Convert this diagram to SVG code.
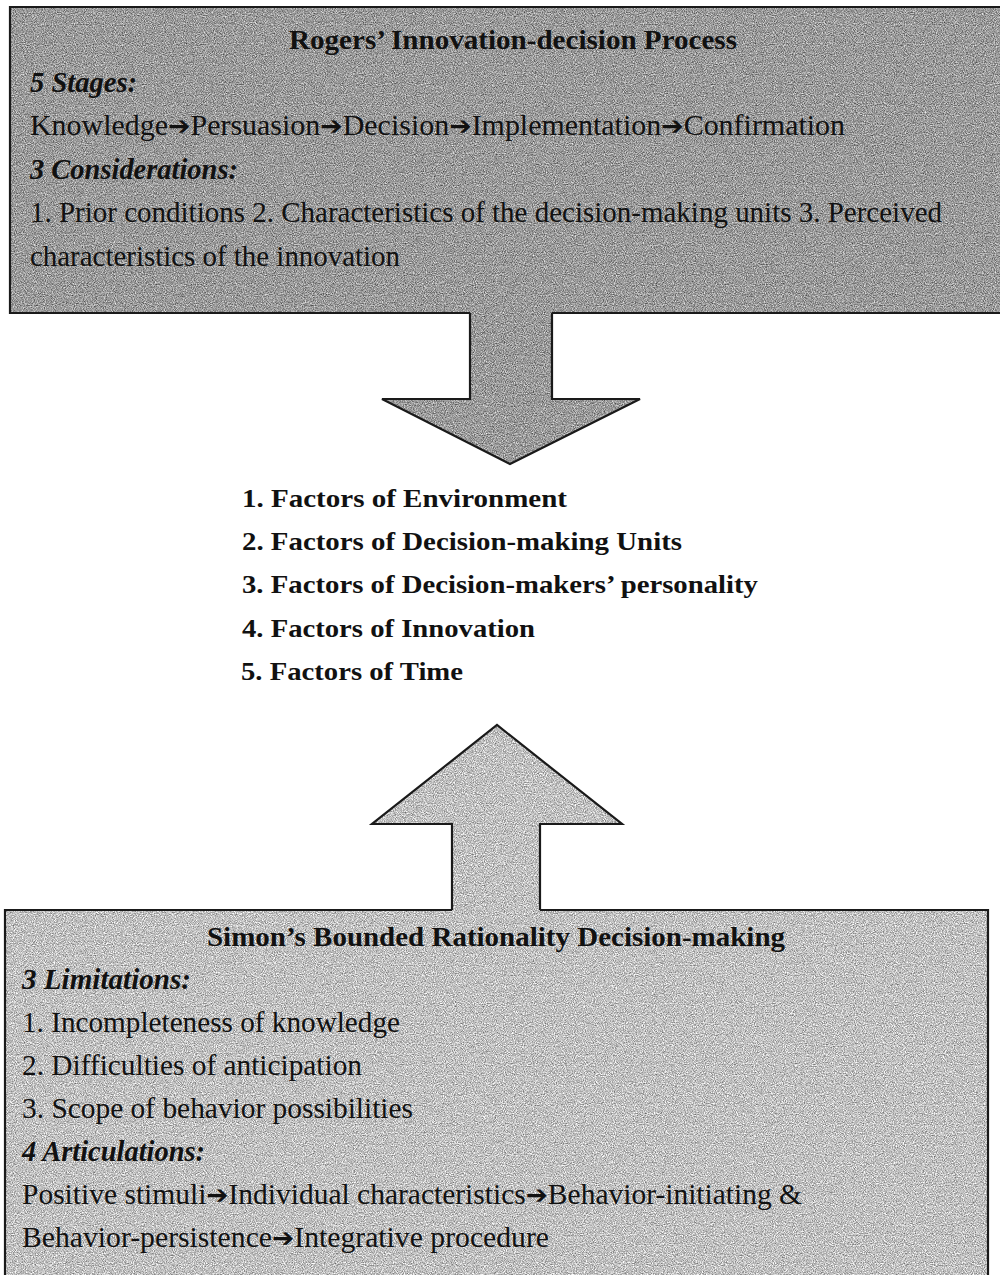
<svg xmlns="http://www.w3.org/2000/svg" width="1000" height="1275" viewBox="0 0 1000 1275">
<defs>
<filter id="grain" x="0" y="0" width="100%" height="100%" color-interpolation-filters="sRGB">
<feTurbulence type="fractalNoise" baseFrequency="0.9" numOctaves="2" seed="7" result="n"/>
<feColorMatrix in="n" type="matrix" values="1 0 0 0 0  1 0 0 0 0  1 0 0 0 0  0 0 0 0 1" result="g"/>
<feComposite in="SourceGraphic" in2="g" operator="arithmetic" k1="0" k2="1" k3="0.9" k4="-0.45" result="m"/>
<feComposite in="m" in2="SourceGraphic" operator="in"/>
</filter>
<style>
.dark{fill:#9a9a9a;filter:url(#grain)}
.light{fill:#c0c0c0;filter:url(#grain)}
.edge{fill:none;stroke:#1a1a1a;stroke-width:2.2;stroke-linejoin:miter}
text{font-family:"Liberation Serif","Times New Roman",serif;fill:#111;font-size:29px}
.b{font-weight:bold;font-size:27px}
.bi{font-weight:bold;font-style:italic}
.f{font-weight:bold;font-size:26px}
.ar{font-family:"DejaVu Sans",sans-serif;font-weight:bold;font-size:26px}
</style>
</defs>
<rect width="1000" height="1275" fill="#ffffff"/>

<g id="connectors">
<g id="arrow-down">
<polygon class="dark" points="470,309 470,399 382,399 510,464 640,399 552,399 552,309"/>
<polyline class="edge" points="470,313 470,399 382,399 510,464 640,399 552,399 552,313"/>
</g>
<g id="arrow-up">
<polygon class="light" points="452,914 452,824 372,824 497,725 622,824 540,824 540,914"/>
<polyline class="edge" points="452,910 452,824 372,824 497,725 622,824 540,824 540,910"/>
</g>
</g>

<g id="rogers">
<rect class="dark" x="10" y="7" width="995" height="306"/>
<path class="edge" d="M1005,7 H10 V313 H470 M552,313 H1005"/>
<text class="b" x="289" y="49" textLength="448" lengthAdjust="spacingAndGlyphs">Rogers’ Innovation-decision Process</text>
<text class="bi" x="30" y="92" textLength="107" lengthAdjust="spacingAndGlyphs">5 Stages:</text>
<text x="30" y="135" textLength="815" lengthAdjust="spacingAndGlyphs">Knowledge<tspan class="ar">➔</tspan>Persuasion<tspan class="ar">➔</tspan>Decision<tspan class="ar">➔</tspan>Implementation<tspan class="ar">➔</tspan>Confirmation</text>
<text class="bi" x="30" y="179" textLength="208" lengthAdjust="spacingAndGlyphs">3 Considerations:</text>
<text x="30" y="222" textLength="912" lengthAdjust="spacingAndGlyphs">1. Prior conditions 2. Characteristics of the decision-making units 3. Perceived</text>
<text x="30" y="266" textLength="370" lengthAdjust="spacingAndGlyphs">characteristics of the innovation</text>
</g>

<g id="factors">
<text class="f" x="242" y="507" textLength="325" lengthAdjust="spacingAndGlyphs">1. Factors of Environment</text>
<text class="f" x="242" y="550" textLength="440" lengthAdjust="spacingAndGlyphs">2. Factors of Decision-making Units</text>
<text class="f" x="242" y="593" textLength="516" lengthAdjust="spacingAndGlyphs">3. Factors of Decision-makers’ personality</text>
<text class="f" x="242" y="637" textLength="293" lengthAdjust="spacingAndGlyphs">4. Factors of Innovation</text>
<text class="f" x="241" y="680" textLength="222" lengthAdjust="spacingAndGlyphs">5. Factors of Time</text>
</g>

<g id="simon">
<rect class="light" x="5" y="910" width="983" height="370"/>
<path class="edge" d="M5,1280 V910 H452 M540,910 H988 V1280"/>
<text class="b" x="207" y="946" textLength="578" lengthAdjust="spacingAndGlyphs">Simon’s Bounded Rationality Decision-making</text>
<text class="bi" x="22" y="989" textLength="169" lengthAdjust="spacingAndGlyphs">3 Limitations:</text>
<text x="22" y="1032" textLength="378" lengthAdjust="spacingAndGlyphs">1. Incompleteness of knowledge</text>
<text x="22" y="1075" textLength="340" lengthAdjust="spacingAndGlyphs">2. Difficulties of anticipation</text>
<text x="22" y="1118" textLength="391" lengthAdjust="spacingAndGlyphs">3. Scope of behavior possibilities</text>
<text class="bi" x="22" y="1161" textLength="183" lengthAdjust="spacingAndGlyphs">4 Articulations:</text>
<text x="22" y="1204" textLength="780" lengthAdjust="spacingAndGlyphs">Positive stimuli<tspan class="ar">➔</tspan>Individual characteristics<tspan class="ar">➔</tspan>Behavior-initiating &amp;</text>
<text x="22" y="1247" textLength="527" lengthAdjust="spacingAndGlyphs">Behavior-persistence<tspan class="ar">➔</tspan>Integrative procedure</text>
</g>
</svg>
